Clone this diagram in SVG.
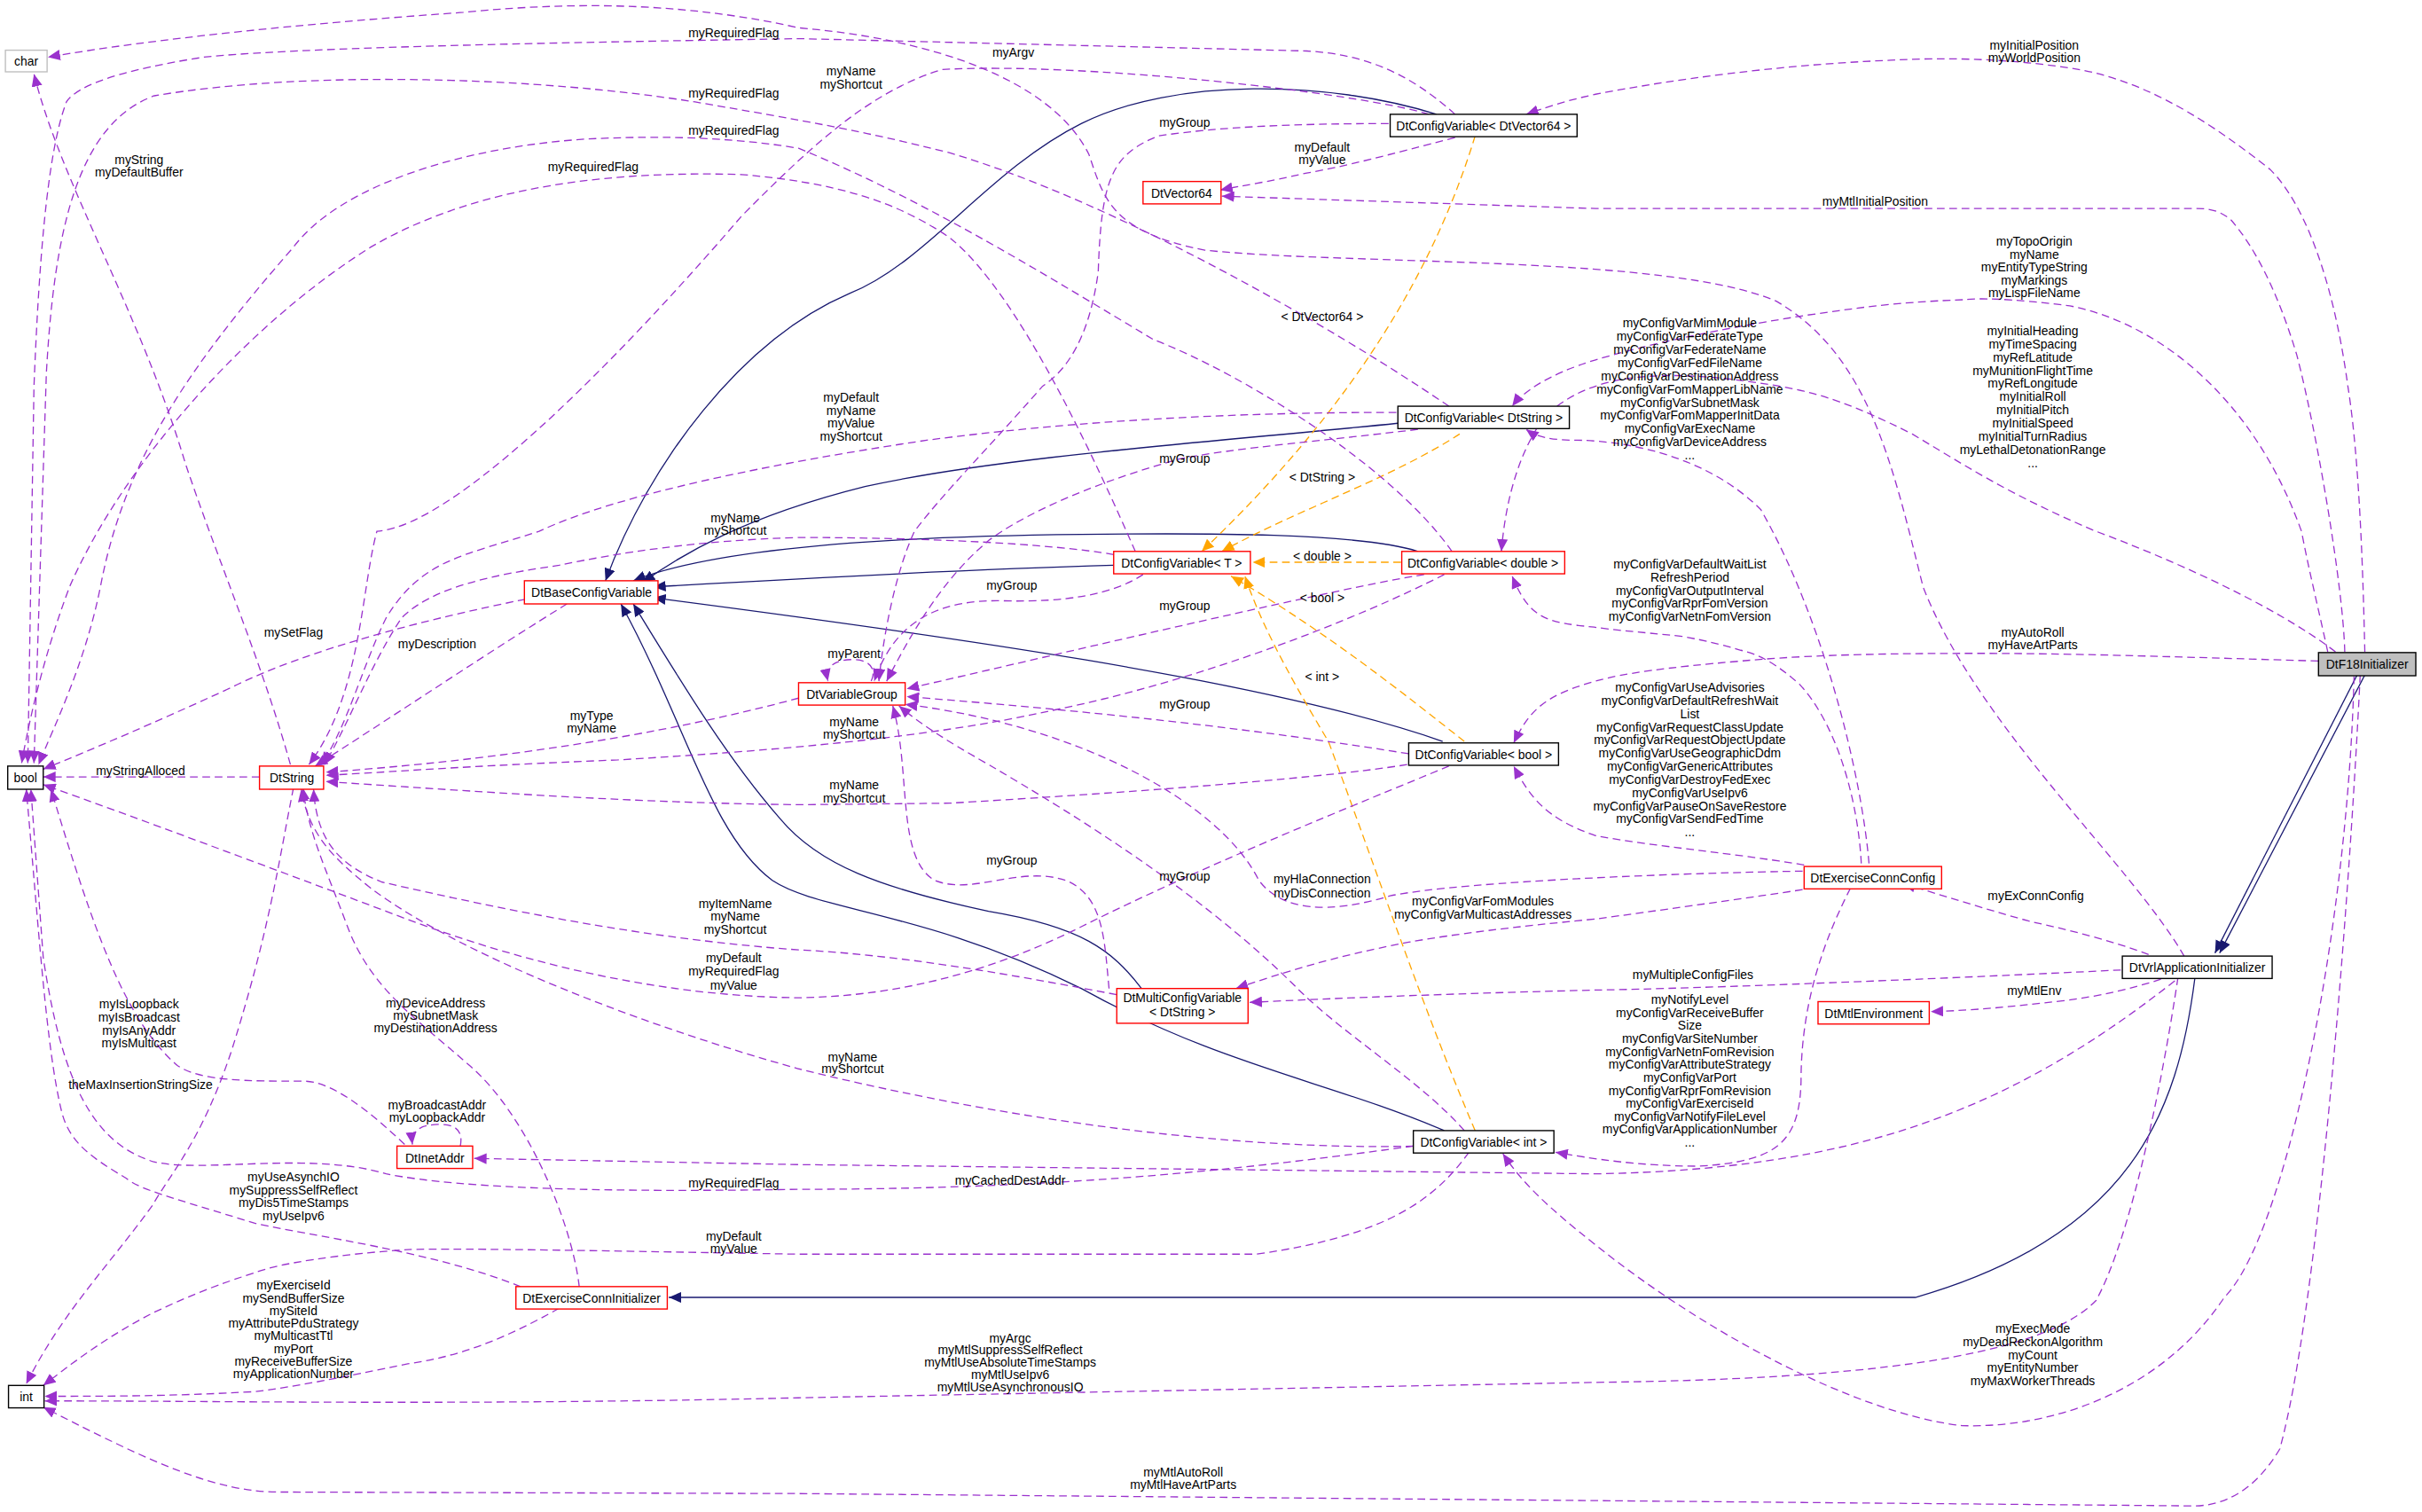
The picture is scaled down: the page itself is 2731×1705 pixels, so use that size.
<svg xmlns="http://www.w3.org/2000/svg" width="2731" height="1705" viewBox="0 0 2731 1705">
<style>
text{font-family:"Liberation Sans",Arial,sans-serif;font-size:8px;fill:#000}
.n text{text-anchor:middle}
.l{text-anchor:middle}
.b{fill:#fff;stroke:#000;stroke-width:0.8}
.r{fill:#fff;stroke:#ff0000;stroke-width:0.8}
.g{fill:#fff;stroke:#bfbfbf;stroke-width:0.8}
.p{fill:none;stroke:#9a32cd;stroke-width:0.75;stroke-dasharray:5,3;marker-end:url(#mp)}
.o{fill:none;stroke:#ffa500;stroke-width:0.75;stroke-dasharray:5,3;marker-end:url(#mo)}
.i{fill:none;stroke:#191970;stroke-width:0.75;marker-end:url(#mi)}
</style>
<defs>
<marker id="mp" markerUnits="userSpaceOnUse" markerWidth="9" markerHeight="7" refX="8" refY="3.5" orient="auto"><path d="M0,0 L8,3.5 L0,7 z" fill="#9a32cd"/></marker>
<marker id="mo" markerUnits="userSpaceOnUse" markerWidth="9" markerHeight="7" refX="8" refY="3.5" orient="auto"><path d="M0,0 L8,3.5 L0,7 z" fill="#ffa500"/></marker>
<marker id="mi" markerUnits="userSpaceOnUse" markerWidth="9" markerHeight="7" refX="8" refY="3.5" orient="auto"><path d="M0,0 L8,3.5 L0,7 z" fill="#191970"/></marker>
</defs>
<rect width="2731" height="1705" fill="#fff"/>
<g transform="scale(1.7417)">
<g id="edges">
<!-- inheritance -->
<path class="i" d="M930,74 C860,52 760,50 700,80 C640,110 600,170 550,190 C480,220 420,300 392,376"/>
<path class="i" d="M905,274 C800,285 650,295 560,315 C480,335 440,360 416,377"/>
<path class="i" d="M721,366 C650,368 560,372 423,380"/>
<path class="i" d="M918,357 C880,345 780,345 700,346 C600,347 470,352 410,376"/>
<path class="i" d="M934,480 C820,440 600,410 423,387"/>
<path class="i" d="M739,640 C720,615 700,600 640,590 C570,575 530,560 505,530 C470,490 440,440 410,391"/>
<path class="i" d="M935,732 C860,700 790,690 700,640 C600,590 530,590 500,570 C460,540 445,470 402,391"/>
<path class="i" d="M1526,437 L1434,617"/>
<path class="i" d="M1531,437 L1437,617"/>
<path class="i" d="M1421,633 C1410,720 1380,800 1240,840 L433,840"/>
<!-- templates -->
<path class="o" d="M955,88 C930,170 880,260 778,357"/>
<path class="o" d="M945,281 C900,310 840,330 791,357"/>
<path class="o" d="M907,364 L811,364"/>
<path class="o" d="M948,480 C910,450 860,410 797,373"/>
<path class="o" d="M955,732 C920,650 890,560 860,480 C830,430 815,400 806,373"/>
<!-- char -->
<path class="p" d="M1414,619 C1380,560 1280,470 1245,380 C1225,300 1210,230 1150,195 C1080,165 880,172 780,162 C720,150 715,130 705,100 C680,50 600,25 517,18 C450,3 380,0 300,8 C200,15 100,25 31,37"/>
<path class="p" d="M188,495 C170,430 140,360 120,300 C90,200 40,120 22,48"/>
<!-- bool -->
<path class="p" d="M942,74 C910,45 880,35 846,33 L517,25 C400,27 200,30 132,37 C80,45 50,55 43,66 C30,100 25,176 22,250 L18,494"/>
<path class="p" d="M938,263 C860,210 720,130 615,99 C560,85 520,78 450,66 C350,50 200,45 100,62 C50,80 35,150 30,242 L22,494"/>
<path class="p" d="M940,357 C900,300 800,240 747,220 C680,180 600,130 517,96 C470,88 420,88 380,90 C300,95 220,120 190,160 C120,240 80,300 65,380 C55,430 35,470 25,495"/>
<path class="p" d="M735,357 C710,300 660,190 615,154 C580,130 540,118 480,113 C380,110 300,125 240,160 C160,210 80,300 45,380 C30,420 20,460 14,494"/>
<path class="p" d="M340,388 C280,400 200,420 150,445 C100,468 60,485 28,498"/>
<path class="p" d="M168,503 L28,503"/>
<path class="p" d="M938,496 C880,520 780,560 700,600 C640,630 580,645 517,646 C430,645 340,625 250,590 C170,560 90,530 28,508"/>
<path class="p" d="M262,741 C240,720 215,700 197,700 C160,700 130,700 115,690 C80,660 60,600 33,511"/>
<path class="p" d="M915,742 C820,755 700,770 517,770 C400,772 300,770 250,760 C200,745 130,760 99,752 C60,740 40,700 28,620 L20,511"/>
<path class="p" d="M337,833 C280,810 200,800 165,792 C110,775 90,770 82,763 C60,750 45,740 40,720 C30,680 25,600 17,511"/>
<!-- int -->
<path class="p" d="M190,510 C180,560 175,600 150,680 C130,740 110,760 99,780 C70,820 40,850 17,896"/>
<path class="p" d="M951,746 C930,775 900,800 813,812 L517,812 C400,810 300,808 264,809 C220,812 180,818 165,824 C130,835 110,845 99,850 C70,865 50,880 28,897"/>
<path class="p" d="M362,847 C330,865 300,878 264,883 C220,892 190,898 165,901 C110,904 70,904 29,904"/>
<path class="p" d="M1410,633 C1400,700 1380,800 1357,842 C1320,880 1200,893 1033,895 L517,905 C300,910 150,907 29,907"/>
<path class="p" d="M1528,437 C1520,600 1500,850 1476,938 C1460,965 1440,975 1420,975 L517,967 L181,966 C140,966 100,948 28,911"/>
<!-- int cfg -->
<path class="p" d="M1198,575 C1175,620 1166,660 1166,700 C1165,740 1150,752 1100,755 C1060,755 1030,750 1007,746"/>
<path class="p" d="M1524,438 C1520,600 1480,800 1440,840 C1400,900 1330,925 1270,923 C1200,915 1100,860 1033,806 C1000,780 985,765 973,747"/>
<!-- inet -->
<path class="p" d="M1408,635 C1300,720 1200,757 1033,760 L517,754 L307,750"/>
<path class="p" d="M298,742 C300,732 295,728 285,728 C272,728 266,732 267,741"/>
<!-- DtString -->
<path class="p" d="M375,833 C370,790 340,720 303,689 C270,660 240,640 225,600 C210,560 200,540 196,510"/>
<path class="p" d="M367,391 C320,420 260,460 204,496"/>
<path class="p" d="M925,74 C880,60 700,40 610,45 C560,60 520,100 480,140 C420,210 300,340 244,344 C234,380 234,450 200,495"/>
<path class="p" d="M904,267 C800,267 700,272 600,285 C500,300 400,320 349,344 C300,360 273,362 250,400 C235,430 225,470 208,495"/>
<path class="p" d="M721,359 C680,352 600,348 517,348 C450,350 400,358 362,366 C320,372 280,380 260,400 C240,430 225,470 210,495"/>
<path class="p" d="M517,452 C450,470 350,490 211,500"/>
<path class="p" d="M935,372 C880,400 780,440 681,460 C600,478 500,486 400,492 C300,496 250,500 211,502"/>
<path class="p" d="M911,495 C850,505 700,515 615,520 L517,521 C420,520 330,514 211,506"/>
<path class="p" d="M723,644 C650,630 580,618 517,615 C420,608 330,590 247,571 C220,560 205,545 203,511"/>
<path class="p" d="M915,742 C800,745 650,725 517,692 C420,665 300,620 240,575 C215,555 200,540 195,511"/>
<!-- VariableGroup -->
<path class="p" d="M564,441 C568,432 562,427 552,427 C540,427 534,432 536,441"/>
<path class="p" d="M740,372 C720,385 690,390 650,389 C610,388 580,400 566,441"/>
<path class="p" d="M899,80 C840,80 790,82 750,88 C720,100 713,115 711,176 C705,220 690,240 675,250 C640,290 610,320 592,344 C580,370 572,410 569,441"/>
<path class="p" d="M918,278 C860,285 800,290 764,297 C700,315 660,335 640,350 C610,375 590,410 574,441"/>
<path class="p" d="M922,372 C870,380 700,420 587,446"/>
<path class="p" d="M912,488 C800,470 700,460 587,451"/>
<path class="p" d="M948,732 C920,700 870,670 840,640 C780,580 700,530 640,495 C610,478 595,468 582,457"/>
<path class="p" d="M718,640 C715,610 715,580 690,570 C660,560 630,580 605,570 C580,555 590,500 578,457"/>
<path class="p" d="M1167,564 C1100,565 950,570 900,580 C860,592 830,590 815,570 C790,520 700,470 586,456"/>
<!-- DtVector64 -->
<path class="p" d="M942,89 C900,100 870,108 846,112 C820,118 805,120 790,123"/>
<path class="p" d="M1518,422 C1517,380 1500,280 1487,230 C1475,190 1460,160 1444,142 C1435,135 1428,135 1420,135 L1033,135 L791,127"/>
<!-- Vec64cfg -->
<path class="p" d="M1531,422 C1530,380 1528,300 1520,250 C1510,176 1490,130 1470,110 C1420,70 1380,50 1340,44 C1300,38 1260,37 1224,39 C1150,42 1080,52 1033,61 C1010,66 1000,70 988,74"/>
<!-- DtString cfg -->
<path class="p" d="M1507,422 C1500,390 1495,370 1490,344 C1460,260 1400,210 1340,198 C1300,193 1280,193 1272,194 C1220,196 1200,200 1170,204 C1100,215 1060,225 1033,233 C1000,243 985,255 979,263"/>
<path class="p" d="M1210,559 C1205,500 1180,400 1140,330 C1100,290 1040,285 1020,285 C1005,285 995,283 988,278"/>
<!-- double cfg -->
<path class="p" d="M1512,422 C1470,390 1400,360 1357,344 C1300,320 1270,300 1238,281 C1200,262 1180,255 1152,250 C1080,238 1030,240 1000,270 C985,290 975,320 972,357"/>
<path class="p" d="M1205,559 C1203,520 1190,470 1165,443 C1150,430 1140,424 1127,421 C1110,416 1100,414 1089,412 C1060,409 1045,408 1032,406 C1000,403 990,400 979,373"/>
<!-- bool cfg -->
<path class="p" d="M1501,428 C1400,425 1340,423 1278,423 C1200,423 1160,425 1127,428 C1080,432 1050,436 1033,441 C1000,450 990,460 980,481"/>
<path class="p" d="M1168,560 C1120,552 1070,548 1033,541 C1000,530 990,515 980,496"/>
<!-- Multi -->
<path class="p" d="M1167,576 C1120,583 1070,590 1033,595 C980,600 940,605 912,610 C860,620 830,630 800,640"/>
<path class="p" d="M1373,628 C1250,634 1100,640 1033,641 C950,643 870,646 809,649"/>
<!-- ECI, MtlEnv -->
<path class="p" d="M1391,618 C1370,610 1340,602 1316,597 C1290,590 1265,582 1232,572"/>
<path class="p" d="M1399,634 C1380,640 1360,645 1335,648 C1300,652 1280,654 1250,655"/>
</g>
<g id="labels">
<text class="l" x="656" y="37">myArgv</text>
<text class="l" x="90" y="106">myString<tspan x="90" dy="8.5">myDefaultBuffer</tspan></text>
<text class="l" x="475" y="24">myRequiredFlag</text>
<text class="l" x="475" y="63">myRequiredFlag</text>
<text class="l" x="475" y="87">myRequiredFlag</text>
<text class="l" x="384" y="111">myRequiredFlag</text>
<text class="l" x="475" y="769">myRequiredFlag</text>
<text class="l" x="190" y="412">mySetFlag</text>
<text class="l" x="91" y="502">myStringAlloced</text>
<text class="l" x="475" y="623">myDefault<tspan x="475" dy="8.8">myRequiredFlag</tspan><tspan x="475" dy="8.8">myValue</tspan></text>
<text class="l" x="90" y="653">myIsLoopback<tspan x="90" dy="8.4">myIsBroadcast</tspan><tspan x="90" dy="8.4">myIsAnyAddr</tspan><tspan x="90" dy="8.4">myIsMulticast</tspan></text>
<text class="l" x="190" y="765">myUseAsynchIO<tspan x="190" dy="8.3">mySuppressSelfReflect</tspan><tspan x="190" dy="8.3">myDis5TimeStamps</tspan><tspan x="190" dy="8.3">myUseIpv6</tspan></text>
<text class="l" x="91" y="705">theMaxInsertionStringSize</text>
<text class="l" x="475" y="803">myDefault<tspan x="475" dy="8.2">myValue</tspan></text>
<text class="l" x="190" y="835">myExerciseId<tspan x="190" dy="8.2">mySendBufferSize</tspan><tspan x="190" dy="8.2">mySiteId</tspan><tspan x="190" dy="8.2">myAttributePduStrategy</tspan><tspan x="190" dy="8.2">myMulticastTtl</tspan><tspan x="190" dy="8.2">myPort</tspan><tspan x="190" dy="8.2">myReceiveBufferSize</tspan><tspan x="190" dy="8.2">myApplicationNumber</tspan></text>
<text class="l" x="654" y="869">myArgc<tspan x="654" dy="8">myMtlSuppressSelfReflect</tspan><tspan x="654" dy="8">myMtlUseAbsoluteTimeStamps</tspan><tspan x="654" dy="8">myMtlUseIpv6</tspan><tspan x="654" dy="8">myMtlUseAsynchronousIO</tspan></text>
<text class="l" x="766" y="956">myMtlAutoRoll<tspan x="766" dy="8">myMtlHaveArtParts</tspan></text>
<text class="l" x="1094" y="650">myNotifyLevel<tspan x="1094" dy="8.4">myConfigVarReceiveBuffer</tspan><tspan x="1094" dy="8.4">Size</tspan><tspan x="1094" dy="8.4">myConfigVarSiteNumber</tspan><tspan x="1094" dy="8.4">myConfigVarNetnFomRevision</tspan><tspan x="1094" dy="8.4">myConfigVarAttributeStrategy</tspan><tspan x="1094" dy="8.4">myConfigVarPort</tspan><tspan x="1094" dy="8.4">myConfigVarRprFomRevision</tspan><tspan x="1094" dy="8.4">myConfigVarExerciseId</tspan><tspan x="1094" dy="8.4">myConfigVarNotifyFileLevel</tspan><tspan x="1094" dy="8.4">myConfigVarApplicationNumber</tspan><tspan x="1094" dy="8.4">...</tspan></text>
<text class="l" x="1316" y="863">myExecMode<tspan x="1316" dy="8.5">myDeadReckonAlgorithm</tspan><tspan x="1316" dy="8.5">myCount</tspan><tspan x="1316" dy="8.5">myEntityNumber</tspan><tspan x="1316" dy="8.5">myMaxWorkerThreads</tspan></text>
<text class="l" x="283" y="718">myBroadcastAddr<tspan x="283" dy="8.4">myLoopbackAddr</tspan></text>
<text class="l" x="1000" y="758" style="text-anchor:end"></text>
<text class="l" x="654" y="767">myCachedDestAddr</text>
<text class="l" x="282" y="652">myDeviceAddress<tspan x="282" dy="8.2">mySubnetMask</tspan><tspan x="282" dy="8.2">myDestinationAddress</tspan></text>
<text class="l" x="283" y="420">myDescription</text>
<text class="l" x="551" y="49">myName<tspan x="551" dy="8.5">myShortcut</tspan></text>
<text class="l" x="551" y="260">myDefault<tspan x="551" dy="8.5">myName</tspan><tspan x="551" dy="8.5">myValue</tspan><tspan x="551" dy="8.5">myShortcut</tspan></text>
<text class="l" x="476" y="338">myName<tspan x="476" dy="8.5">myShortcut</tspan></text>
<text class="l" x="383" y="466">myType<tspan x="383" dy="8.3">myName</tspan></text>
<text class="l" x="553" y="470">myName<tspan x="553" dy="8.4">myShortcut</tspan></text>
<text class="l" x="553" y="511">myName<tspan x="553" dy="8.5">myShortcut</tspan></text>
<text class="l" x="476" y="588">myItemName<tspan x="476" dy="8.2">myName</tspan><tspan x="476" dy="8.2">myShortcut</tspan></text>
<text class="l" x="552" y="687">myName<tspan x="552" dy="8">myShortcut</tspan></text>
<text class="l" x="553" y="426">myParent</text>
<text class="l" x="655" y="382">myGroup</text>
<text class="l" x="767" y="82">myGroup</text>
<text class="l" x="767" y="300">myGroup</text>
<text class="l" x="767" y="395">myGroup</text>
<text class="l" x="767" y="459">myGroup</text>
<text class="l" x="767" y="570">myGroup</text>
<text class="l" x="655" y="560">myGroup</text>
<text class="l" x="856" y="572">myHlaConnection<tspan x="856" dy="8.8">myDisConnection</tspan></text>
<text class="l" x="856" y="98">myDefault<tspan x="856" dy="8">myValue</tspan></text>
<text class="l" x="1214" y="133">myMtlInitialPosition</text>
<text class="l" x="1317" y="32">myInitialPosition<tspan x="1317" dy="8">myWorldPosition</tspan></text>
<text class="l" x="1317" y="159">myTopoOrigin<tspan x="1317" dy="8.4">myName</tspan><tspan x="1317" dy="8.4">myEntityTypeString</tspan><tspan x="1317" dy="8.4">myMarkings</tspan><tspan x="1317" dy="8.4">myLispFileName</tspan></text>
<text class="l" x="1094" y="212">myConfigVarMimModule<tspan x="1094" dy="8.55">myConfigVarFederateType</tspan><tspan x="1094" dy="8.55">myConfigVarFederateName</tspan><tspan x="1094" dy="8.55">myConfigVarFedFileName</tspan><tspan x="1094" dy="8.55">myConfigVarDestinationAddress</tspan><tspan x="1094" dy="8.55">myConfigVarFomMapperLibName</tspan><tspan x="1094" dy="8.55">myConfigVarSubnetMask</tspan><tspan x="1094" dy="8.55">myConfigVarFomMapperInitData</tspan><tspan x="1094" dy="8.55">myConfigVarExecName</tspan><tspan x="1094" dy="8.55">myConfigVarDeviceAddress</tspan><tspan x="1094" dy="8.55">...</tspan></text>
<text class="l" x="1316" y="217">myInitialHeading<tspan x="1316" dy="8.55">myTimeSpacing</tspan><tspan x="1316" dy="8.55">myRefLatitude</tspan><tspan x="1316" dy="8.55">myMunitionFlightTime</tspan><tspan x="1316" dy="8.55">myRefLongitude</tspan><tspan x="1316" dy="8.55">myInitialRoll</tspan><tspan x="1316" dy="8.55">myInitialPitch</tspan><tspan x="1316" dy="8.55">myInitialSpeed</tspan><tspan x="1316" dy="8.55">myInitialTurnRadius</tspan><tspan x="1316" dy="8.55">myLethalDetonationRange</tspan><tspan x="1316" dy="8.55">...</tspan></text>
<text class="l" x="1094" y="368">myConfigVarDefaultWaitList<tspan x="1094" dy="8.5">RefreshPeriod</tspan><tspan x="1094" dy="8.5">myConfigVarOutputInterval</tspan><tspan x="1094" dy="8.5">myConfigVarRprFomVersion</tspan><tspan x="1094" dy="8.5">myConfigVarNetnFomVersion</tspan></text>
<text class="l" x="1316" y="412">myAutoRoll<tspan x="1316" dy="8.3">myHaveArtParts</tspan></text>
<text class="l" x="1094" y="448">myConfigVarUseAdvisories<tspan x="1094" dy="8.5">myConfigVarDefaultRefreshWait</tspan><tspan x="1094" dy="8.5">List</tspan><tspan x="1094" dy="8.5">myConfigVarRequestClassUpdate</tspan><tspan x="1094" dy="8.5">myConfigVarRequestObjectUpdate</tspan><tspan x="1094" dy="8.5">myConfigVarUseGeographicDdm</tspan><tspan x="1094" dy="8.5">myConfigVarGenericAttributes</tspan><tspan x="1094" dy="8.5">myConfigVarDestroyFedExec</tspan><tspan x="1094" dy="8.5">myConfigVarUseIpv6</tspan><tspan x="1094" dy="8.5">myConfigVarPauseOnSaveRestore</tspan><tspan x="1094" dy="8.5">myConfigVarSendFedTime</tspan><tspan x="1094" dy="8.5">...</tspan></text>
<text class="l" x="960" y="586">myConfigVarFomModules<tspan x="960" dy="8.8">myConfigVarMulticastAddresses</tspan></text>
<text class="l" x="1096" y="634">myMultipleConfigFiles</text>
<text class="l" x="1318" y="583">myExConnConfig</text>
<text class="l" x="1317" y="644">myMtlEnv</text>
<text class="l" x="856" y="208">&lt; DtVector64 &gt;</text>
<text class="l" x="856" y="312">&lt; DtString &gt;</text>
<text class="l" x="856" y="363">&lt; double &gt;</text>
<text class="l" x="856" y="390">&lt; bool &gt;</text>
<text class="l" x="856" y="441">&lt; int &gt;</text>
</g>
<g id="n-char" class="n"><rect class="g" x="3.5" y="32.5" width="27" height="14"/><text x="17" y="42.5">char</text></g>
<g id="n-bool" class="n"><rect class="b" x="5" y="496" width="23" height="15"/><text x="16.5" y="506.5">bool</text></g>
<g id="n-int" class="n"><rect class="b" x="5.5" y="897" width="23" height="14.5"/><text x="17" y="907">int</text></g>
<g id="n-DtString" class="n"><rect class="r" x="168" y="496" width="41.5" height="15"/><text x="189" y="506.5">DtString</text></g>
<g id="n-DtBaseConfigVariable" class="n"><rect class="r" x="339.5" y="376" width="86.5" height="15"/><text x="383" y="386.5">DtBaseConfigVariable</text></g>
<g id="n-DtVariableGroup" class="n"><rect class="r" x="517" y="442" width="69" height="14.5"/><text x="551.5" y="452.5">DtVariableGroup</text></g>
<g id="n-CfgVec64" class="n"><rect class="b" x="900" y="74" width="121" height="14.5"/><text x="960.5" y="84.5">DtConfigVariable&lt; DtVector64 &gt;</text></g>
<g id="n-DtVector64" class="n"><rect class="r" x="740" y="117.5" width="50.5" height="14.5"/><text x="765" y="128">DtVector64</text></g>
<g id="n-CfgString" class="n"><rect class="b" x="905" y="263" width="111" height="14.5"/><text x="960.5" y="273.5">DtConfigVariable&lt; DtString &gt;</text></g>
<g id="n-CfgT" class="n"><rect class="r" x="721" y="357" width="88.5" height="14.5"/><text x="765" y="367.5">DtConfigVariable&lt; T &gt;</text></g>
<g id="n-CfgDouble" class="n"><rect class="r" x="907.5" y="357" width="105.5" height="14.5"/><text x="960" y="367.5">DtConfigVariable&lt; double &gt;</text></g>
<g id="n-CfgBool" class="n"><rect class="b" x="912" y="481" width="97" height="14.5"/><text x="960.5" y="491.5">DtConfigVariable&lt; bool &gt;</text></g>
<g id="n-Multi" class="n"><rect class="r" x="723" y="640" width="85" height="22.5"/><text x="765.5" y="649">DtMultiConfigVariable</text><text x="765.5" y="658">&lt; DtString &gt;</text></g>
<g id="n-CfgInt" class="n"><rect class="b" x="915" y="732" width="91" height="14.5"/><text x="960.5" y="742.5">DtConfigVariable&lt; int &gt;</text></g>
<g id="n-DtInetAddr" class="n"><rect class="r" x="257" y="742" width="49" height="14.5"/><text x="281.5" y="752.5">DtInetAddr</text></g>
<g id="n-ECI" class="n"><rect class="r" x="334" y="833" width="98" height="14.5"/><text x="383" y="843.5">DtExerciseConnInitializer</text></g>
<g id="n-ECC" class="n"><rect class="r" x="1168" y="561" width="89" height="14.5"/><text x="1212.5" y="571.5">DtExerciseConnConfig</text></g>
<g id="n-MtlEnv" class="n"><rect class="r" x="1177" y="648.5" width="72" height="14.5"/><text x="1213" y="659">DtMtlEnvironment</text></g>
<g id="n-Vrl" class="n"><rect class="b" x="1374" y="619" width="97" height="14.5"/><text x="1422.5" y="629.5">DtVrlApplicationInitializer</text></g>
<g id="n-F18" class="n"><rect x="1501" y="422.5" width="63" height="15" fill="#bfbfbf" stroke="#000" stroke-width="0.8"/><text x="1532.5" y="433">DtF18Initializer</text></g>
</g>
</svg>
